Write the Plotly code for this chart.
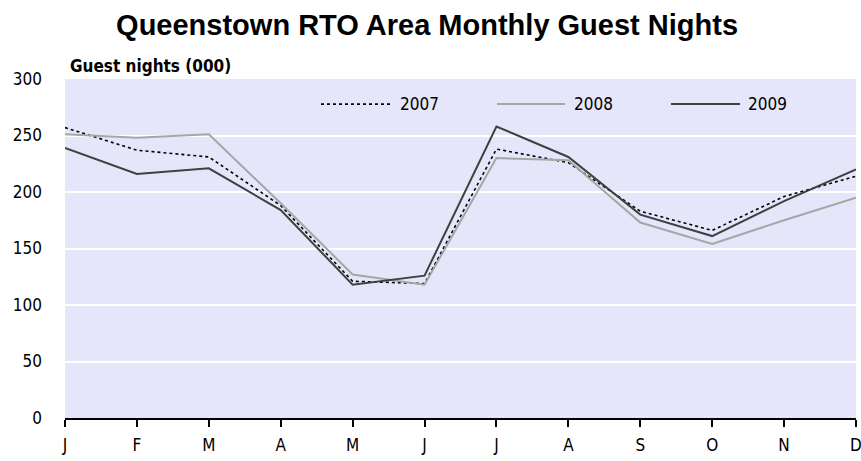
import plotly.graph_objects as go

months = ["J", "F", "M", "A", "M", "J", "J", "A", "S", "O", "N", "D"]
y2007 = [257, 237, 231, 188, 121, 119, 238, 226, 183, 166, 196, 214]
y2008 = [251, 248, 251, 190, 127, 118, 230, 228, 173, 154, 175, 195]
y2009 = [239, 216, 221, 184, 118, 126, 258, 231, 180, 161, 192, 220]
yticks = [0, 50, 100, 150, 200, 250, 300]

series = [
    ("2007", y2007, dict(color="#000000", width=1.6, dash="dot")),
    ("2008", y2008, dict(color="#a6a6a6", width=2)),
    ("2009", y2009, dict(color="#404040", width=2)),
]
# legend sample positions (paper fraction): line start, line end, text left
legend_pos = [(0.3236, 0.4121, 0.421), (0.5461, 0.6321, 0.641), (0.7661, 0.8533, 0.861)]
LEG_Y = 0.926

FONT = "DejaVu Sans Condensed, Liberation Sans Narrow, Arial Narrow, sans-serif"
x = list(range(len(months)))

fig = go.Figure()
shapes = []
annotations = []
for (name, vals, line), (x0, x1, xt) in zip(series, legend_pos):
    fig.add_trace(go.Scatter(x=x, y=vals, name=name, mode="lines", line=line,
                             showlegend=False))
    shapes.append(dict(type="line", xref="paper", yref="paper", x0=x0, x1=x1,
                       y0=LEG_Y, y1=LEG_Y, line=line))
    annotations.append(dict(text=name, xref="paper", yref="paper", x=xt, y=LEG_Y,
                            xanchor="left", yanchor="middle", showarrow=False,
                            font=dict(size=17)))

annotations.append(dict(text="<b>Guest nights (000)</b>", xref="paper", yref="paper",
                        x=0.004, y=1.002, xanchor="left", yanchor="bottom",
                        showarrow=False, font=dict(size=17)))

fig.update_layout(
    width=861, height=461,
    margin=dict(l=65, r=5, t=79, b=43),
    paper_bgcolor="white",
    plot_bgcolor="#e6e6fa",
    font=dict(family=FONT, size=18, color="#000000"),
    title=dict(text="<b>Queenstown RTO Area Monthly Guest Nights</b>",
               x=0.496, xanchor="center", y=0.968, yanchor="top",
               font=dict(family="Liberation Sans, Arial, sans-serif", size=29)),
    showlegend=False,
    shapes=shapes,
    annotations=annotations,
)
fig.update_xaxes(range=[0, 11], tickvals=x, ticktext=months, showgrid=False,
                 ticks="outside", ticklen=7, tickcolor="#000", tickwidth=1.5,
                 showline=True, linecolor="#000", linewidth=2, zeroline=False,
                 tickfont=dict(size=17), ticklabelstandoff=4, automargin=False,
                 ticklabeloverflow="allow")
fig.update_yaxes(range=[0, 300], tickvals=yticks, showgrid=True,
                 gridcolor="white", gridwidth=2, zeroline=False, showline=False,
                 ticks="", tickfont=dict(size=17), ticklabelstandoff=22,
                 automargin=False)

fig.write_html("out.html", config={"displayModeBar": False},
               post_script="document.body.style.margin='0';document.body.style.overflow='hidden';")
